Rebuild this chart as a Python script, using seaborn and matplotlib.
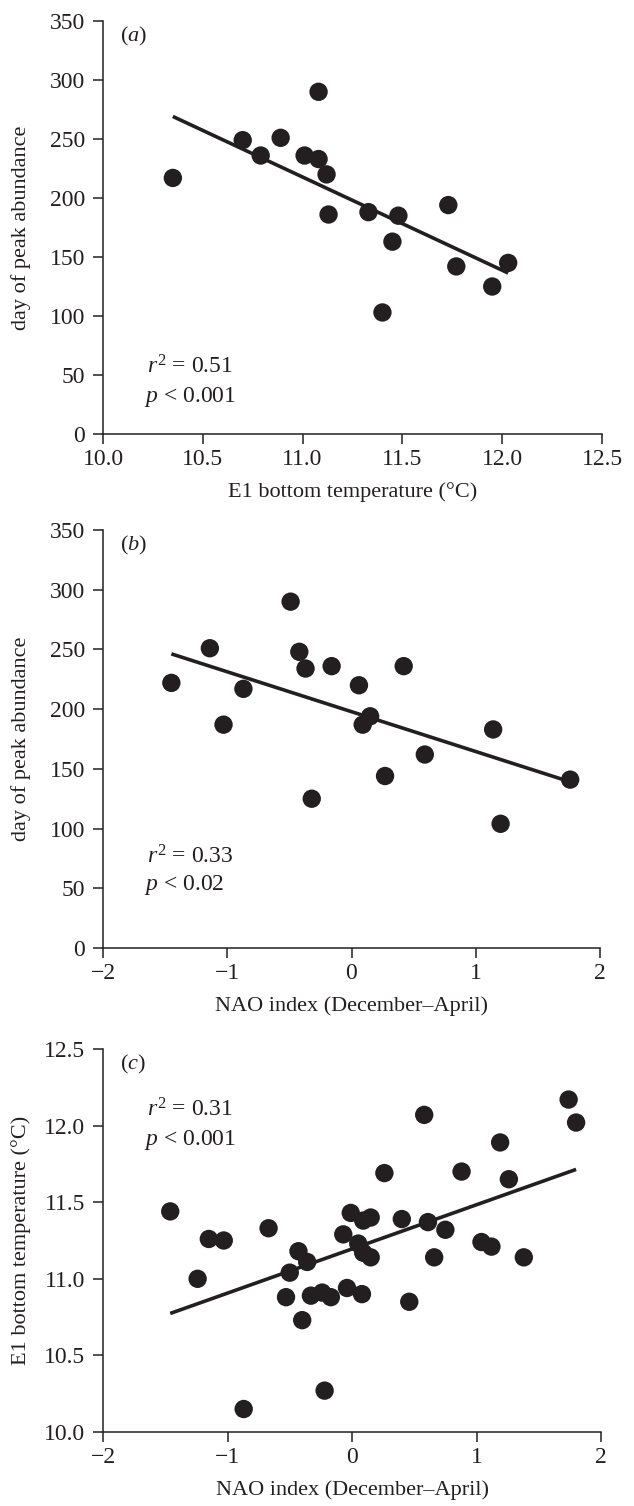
import numpy as np
import pandas as pd
import matplotlib
matplotlib.use("Agg")
import matplotlib.pyplot as plt
import seaborn as sns

# ---------------- data ----------------
# (a) E1 bottom temperature vs day of peak abundance
a_temp = [10.35, 10.70, 10.79, 10.89, 11.01, 11.08, 11.08, 11.12, 11.13,
          11.33, 11.48, 11.45, 11.73, 11.77, 12.03, 11.95, 11.40]
a_day = [217, 249, 236, 251, 236, 290, 233, 220, 186,
         188, 185, 163, 194, 142, 145, 125, 103]

# (b) NAO index vs day of peak abundance
b_nao = [-1.45, -1.14, -1.03, -0.87, -0.49, -0.42, -0.37, -0.32, -0.16,
         0.06, 0.09, 0.15, 0.27, 0.42, 0.59, 1.14, 1.20, 1.76]
b_day = [222, 251, 187, 217, 290, 248, 234, 125, 236,
         220, 187, 194, 144, 236, 162, 183, 104, 141]

# (c) NAO index vs E1 bottom temperature
c_nao = [-1.46, 0.58, 1.19, 1.26, 0.26, 0.88, -0.01, 0.09, 0.15, 0.40,
         0.61, 0.75, -0.67, -1.15, -1.03, -1.24, -0.07, 0.05, 0.09, 0.15,
         -0.43, -0.36, -0.50, -0.53, -0.33, -0.24, -0.17, -0.04, 0.08,
         -0.40, 0.46, 0.66, 1.04, 1.12, 1.38, -0.22, -0.87, 1.74, 1.80]
c_temp = [11.44, 12.07, 11.89, 11.65, 11.69, 11.70, 11.43, 11.38, 11.40, 11.39,
          11.37, 11.32, 11.33, 11.26, 11.25, 11.00, 11.29, 11.23, 11.17, 11.14,
          11.18, 11.11, 11.04, 10.88, 10.89, 10.91, 10.88, 10.94, 10.90,
          10.73, 10.85, 11.14, 11.24, 11.21, 11.14, 10.27, 10.15, 12.17, 12.02]

panel_labels = ["a", "b", "c"]
stats_r = ["0.51", "0.33", "0.31"]
stats_p = ["0.001", "0.02", "0.001"]
xlabels = ["E1 bottom temperature (°C)", "NAO index (December–April)",
           "NAO index (December–April)"]
ylabels = ["day of peak abundance", "day of peak abundance",
           "E1 bottom temperature (°C)"]

# ---------------- style ----------------
sns.set_theme(style="ticks")
plt.rcParams["font.family"] = ["Liberation Serif", "DejaVu Serif"]
plt.rcParams["mathtext.fontset"] = "custom"
plt.rcParams["mathtext.rm"] = "Liberation Serif"
plt.rcParams["mathtext.it"] = "Liberation Serif:italic"
plt.rcParams["axes.unicode_minus"] = True

INK = "#231f20"
FS_TICK = 17
FS_LAB = 16
FS_TXT = 17

fig = plt.figure(figsize=(6.34, 15.06), dpi=100)
W, H = 634, 1506


def add_ax(left, right, top, bottom):
    return fig.add_axes([left / W, 1 - bottom / H, (right - left) / W, (bottom - top) / H])


ax_a = add_ax(103, 602, 21, 434)
ax_b = add_ax(103, 600, 530, 948)
ax_c = add_ax(103, 601, 1049, 1432)

dfs = [pd.DataFrame({"x": a_temp, "y": a_day}),
       pd.DataFrame({"x": b_nao, "y": b_day}),
       pd.DataFrame({"x": c_nao, "y": c_temp})]
axes = [ax_a, ax_b, ax_c]
xlims = [(10, 12.5), (-2, 2), (-2, 2)]
ylims = [(0, 350), (0, 350), (10, 12.5)]
xticks = [np.arange(10, 12.51, 0.5), np.arange(-2, 2.1, 1), np.arange(-2, 2.1, 1)]
yticks = [np.arange(0, 351, 50), np.arange(0, 351, 50), np.arange(10, 12.51, 0.5)]
stat_pos = [(0.163, 0.09), (0.218, 0.151), (0.841, 0.762)]

for i, (ax, df) in enumerate(zip(axes, dfs)):
    sns.regplot(data=df, x="x", y="y", ax=ax, ci=None, truncate=True,
                scatter=False, line_kws=dict(color=INK, lw=2.6,
                                             solid_capstyle="butt"))
    sns.scatterplot(data=df, x="x", y="y", ax=ax, s=175, color=INK,
                    edgecolor="none", linewidth=0, clip_on=False, zorder=3)
    ax.set_xlim(*xlims[i])
    ax.set_ylim(*ylims[i])
    ax.set_xticks(xticks[i])
    ax.set_yticks(yticks[i])
    if i == 0:
        ax.set_xticklabels([f"{v:.1f}" for v in xticks[i]])
        ax.set_yticklabels([f"{int(v)}" for v in yticks[i]])
    elif i == 1:
        ax.set_xticklabels([f"{int(v)}".replace("-", "\u2212") for v in xticks[i]])
        ax.set_yticklabels([f"{int(v)}" for v in yticks[i]])
    else:
        ax.set_xticklabels([f"{int(v)}".replace("-", "\u2212") for v in xticks[i]])
        ax.set_yticklabels([f"{v:.1f}" for v in yticks[i]])
    sns.despine(ax=ax)
    for s in ["left", "bottom"]:
        ax.spines[s].set_color(INK)
        ax.spines[s].set_linewidth(1.1)
    ax.tick_params(axis="both", direction="out", length=7, width=1.1,
                   color=INK, labelsize=FS_TICK, labelcolor=INK)
    ax.tick_params(axis="x", pad=3.5)
    ax.tick_params(axis="y", pad=6)
    ax.set_xlabel(xlabels[i], fontsize=FS_LAB, color=INK, labelpad=9)
    ax.set_ylabel(ylabels[i], fontsize=FS_LAB, color=INK)
    ax.yaxis.set_label_coords(-0.145, 0.5)
    ax.text(0.035, 0.99, f"(${panel_labels[i]}$)", transform=ax.transAxes,
            fontsize=FS_LAB, color=INK, ha="left", va="top")
    ry, py = stat_pos[i]
    ax.text(0.088, ry, f"$r^2$ = {stats_r[i]}", transform=ax.transAxes,
            fontsize=FS_TXT, color=INK, ha="left", va="center")
    ax.text(0.082, py, f"$p$ < {stats_p[i]}", transform=ax.transAxes,
            fontsize=FS_TXT, color=INK, ha="left", va="center")
    ax.set_facecolor("white")

fig.patch.set_facecolor("white")
fig.savefig("out.png", dpi=100, facecolor="white")
